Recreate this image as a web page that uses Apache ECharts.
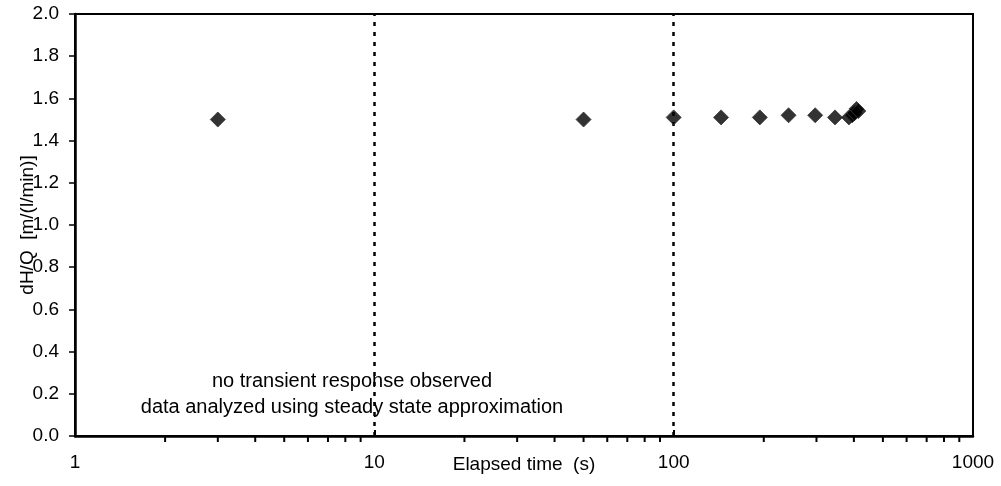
<!DOCTYPE html>
<html>
<head>
<meta charset="utf-8">
<script src="https://cdn.jsdelivr.net/npm/echarts@6/dist/echarts.min.js"></script>
<style>
  html, body { margin: 0; padding: 0; background: #fff; }
  #chart { width: 1001px; height: 486px; }
</style>
</head>
<body>
<div id="chart"></div>
<script>
// elapsed time (s) and dH/Q values
const times = [3, 50, 100, 144, 194, 242, 297, 346, 385, 395, 402, 408, 414]
const dhq = [1.50, 1.50, 1.51, 1.51, 1.51, 1.52, 1.52, 1.51, 1.51, 1.52, 1.53, 1.55, 1.54]
const markTimes = [10, 100]
const minorTicks = [2, 3, 4, 5, 6, 7, 8, 9, 20, 30, 40, 50, 60, 70, 80, 90, 200, 300, 400, 500, 600, 700, 800, 900]
const noteLines = ['no transient response observed', 'data analyzed using steady state approximation']

const myChart = echarts.init(document.getElementById('chart'))
const font = 'Liberation Sans, Arial, sans-serif'

const option = {
  animation: false,
  grid: {
    left: 75, right: 28, top: 14, bottom: 50,
    containLabel: false,
    outerBoundsMode: 'none',
    show: true, borderColor: '#000', borderWidth: 2
  },
  xAxis: {
    type: 'log',
    logBase: 10,
    min: 1,
    max: 1000,
    name: 'Elapsed time  (s)',
    nameLocation: 'middle',
    nameGap: 19,
    nameMoveOverlap: false,
    nameTextStyle: { color: '#000', fontSize: 19, fontFamily: font },
    axisLine: { lineStyle: { color: '#000', width: 2.5 } },
    axisTick: { inside: true, length: 6, lineStyle: { color: '#000', width: 2 } },
    axisLabel: { color: '#000', fontSize: 19, fontFamily: font, margin: 17,
      formatter: v => String(Math.round(v)) },
    splitLine: { show: false }
  },
  yAxis: {
    type: 'value',
    min: 0,
    max: 2,
    interval: 0.2,
    name: 'dH/Q  [m/(l/min)]',
    nameLocation: 'middle',
    nameGap: 38,
    nameMoveOverlap: false,
    nameTextStyle: { color: '#000', fontSize: 19, fontFamily: font },
    axisLine: { show: true, lineStyle: { color: '#000', width: 2.5 } },
    axisTick: { show: true, length: 6, lineStyle: { color: '#000', width: 1.5 } },
    axisLabel: { color: '#000', fontSize: 19, fontFamily: font, margin: 16,
      formatter: v => v.toFixed(1) },
    splitLine: { show: false }
  },
  series: [
    {
      type: 'scatter',
      data: times.map((t, i) => [t, dhq[i]]),
      symbol: 'diamond',
      symbolSize: 15,
      itemStyle: { color: '#000', borderColor: '#333', borderWidth: 1 },
      z: 5,
      markLine: {
        silent: true,
        symbol: 'none',
        label: { show: false },
        lineStyle: { color: '#000', type: [4, 6], width: 2.5 },
        data: markTimes.map(t => ({ xAxis: t }))
      }
    },
    {
      type: 'custom',
      silent: true,
      clip: false,
      data: minorTicks.map(v => [v, 0]),
      renderItem: (params, api) => {
        const p = api.coord([api.value(0), api.value(1)])
        return {
          type: 'line',
          shape: { x1: p[0], y1: p[1], x2: p[0], y2: p[1] + 6 },
          style: { stroke: '#000', lineWidth: 2 }
        }
      }
    }
  ],
  graphic: noteLines.map((txt, i) => ({
    type: 'text',
    x: 352,
    y: 371 + i * 26,
    style: {
      text: txt,
      fill: '#000',
      font: '20px ' + font,
      textAlign: 'center',
      textVerticalAlign: 'top'
    }
  }))
}

myChart.setOption(option)
</script>
</body>
</html>
